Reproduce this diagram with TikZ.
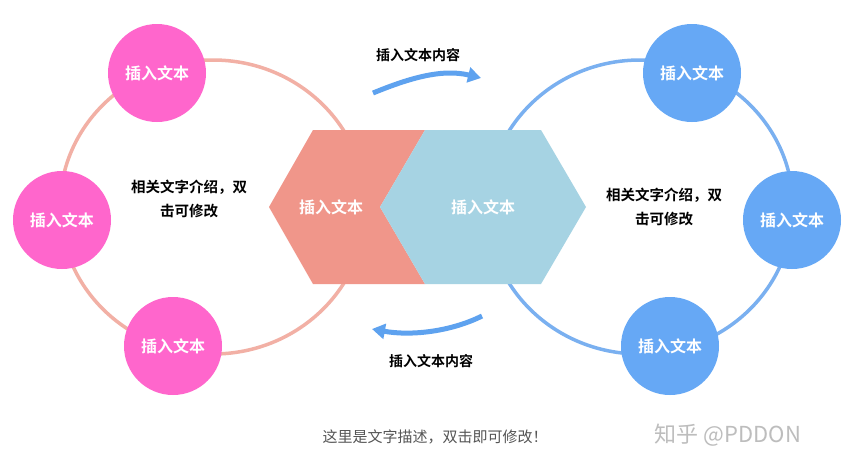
\documentclass[tikz,border=0pt]{standalone}
\usepackage{fontspec}
\newfontfamily\cjk{Noto Sans CJK SC}
\newfontfamily\cjkb{Noto Sans CJK SC Bold}
\usetikzlibrary{arrows.meta}
\definecolor{ringpink}{HTML}{F2B0A5}
\definecolor{circpink}{HTML}{FF66CC}
\definecolor{hexsalmon}{HTML}{F0968A}
\definecolor{hexblue}{HTML}{A6D3E3}
\definecolor{ringblue}{HTML}{7AB0F0}
\definecolor{circblue}{HTML}{66A8F5}
\definecolor{arrowblue}{HTML}{5EA2EF}
\definecolor{captiongray}{HTML}{555555}
\definecolor{markgray}{HTML}{BDBDBD}
\tikzset{
  ring/.style={line width=3.5pt},
  bubble/.style={circle, minimum size=98pt, inner sep=0pt, text=white, font=\cjkb\fontsize{16}{19}\selectfont},
  hexlabel/.style={text=white, font=\cjkb\fontsize{16}{19}\selectfont},
  desc/.style={align=center, text=black, font=\cjkb\fontsize{14.5}{24}\selectfont},
  arrowlabel/.style={text=black, font=\cjkb\fontsize{14}{16}\selectfont},
  bigarrow/.style={arrowblue, line width=5pt, -{Triangle[length=13pt,width=15pt]}},
}
\begin{document}
\begin{tikzpicture}[x=1pt,y=-1pt]
\useasboundingbox (0,0) rectangle (863,467);
\fill[white] (0,0) rectangle (863,467);
% rings
\draw[ring, ringpink] (213,207) ellipse [x radius=153pt, y radius=147pt];
\draw[ring, ringblue] (640,207) ellipse [x radius=153pt, y radius=147pt];
% hexagons
\fill[hexsalmon] (269,207) -- (313,130) -- (425,130) -- (380,207) -- (425,284) -- (313,284) -- cycle;
\fill[hexblue] (380,207) -- (425,130) -- (541,130) -- (586,207) -- (541,284) -- (425,284) -- cycle;
\node[hexlabel] (hl) at (331,207) {插入文本};
\node[hexlabel] (hr) at (483,207) {插入文本};
% left circles
\node[bubble, fill=circpink] (l1) at (157,73) {插入文本};
\node[bubble, fill=circpink] (l2) at (62,220) {插入文本};
\node[bubble, fill=circpink] (l3) at (173,346) {插入文本};
% right circles
\node[bubble, fill=circblue] (r1) at (692,73) {插入文本};
\node[bubble, fill=circblue] (r2) at (792,220) {插入文本};
\node[bubble, fill=circblue] (r3) at (670,346) {插入文本};
% descriptions
\node[desc] (dl) at (189,199) {相关文字介绍，双\\击可修改};
\node[desc] (dr) at (664,207) {相关文字介绍，双\\击可修改};
% arrows
\coordinate (ta) at (373,93);
\coordinate (tb) at (481,78);
\coordinate (ba) at (482,316);
\coordinate (bb) at (372,329);
\draw[bigarrow] (ta) .. controls (405,80) and (440,68) .. (tb);
\draw[bigarrow] (ba) .. controls (450,332) and (410,336) .. (bb);
\node[arrowlabel] (tl) at (418,55) {插入文本内容};
\node[arrowlabel] (bl) at (431,361) {插入文本内容};
% caption and mark
\node[text=captiongray, font=\cjk\fontsize{15}{18}\selectfont] (cap) at (435,437) {这里是文字描述，双击即可修改！};
\node[text=markgray, font=\cjk\fontsize{22}{26}\selectfont] (wm) at (728,435) {知乎 @PDDON};
\end{tikzpicture}
\end{document}
